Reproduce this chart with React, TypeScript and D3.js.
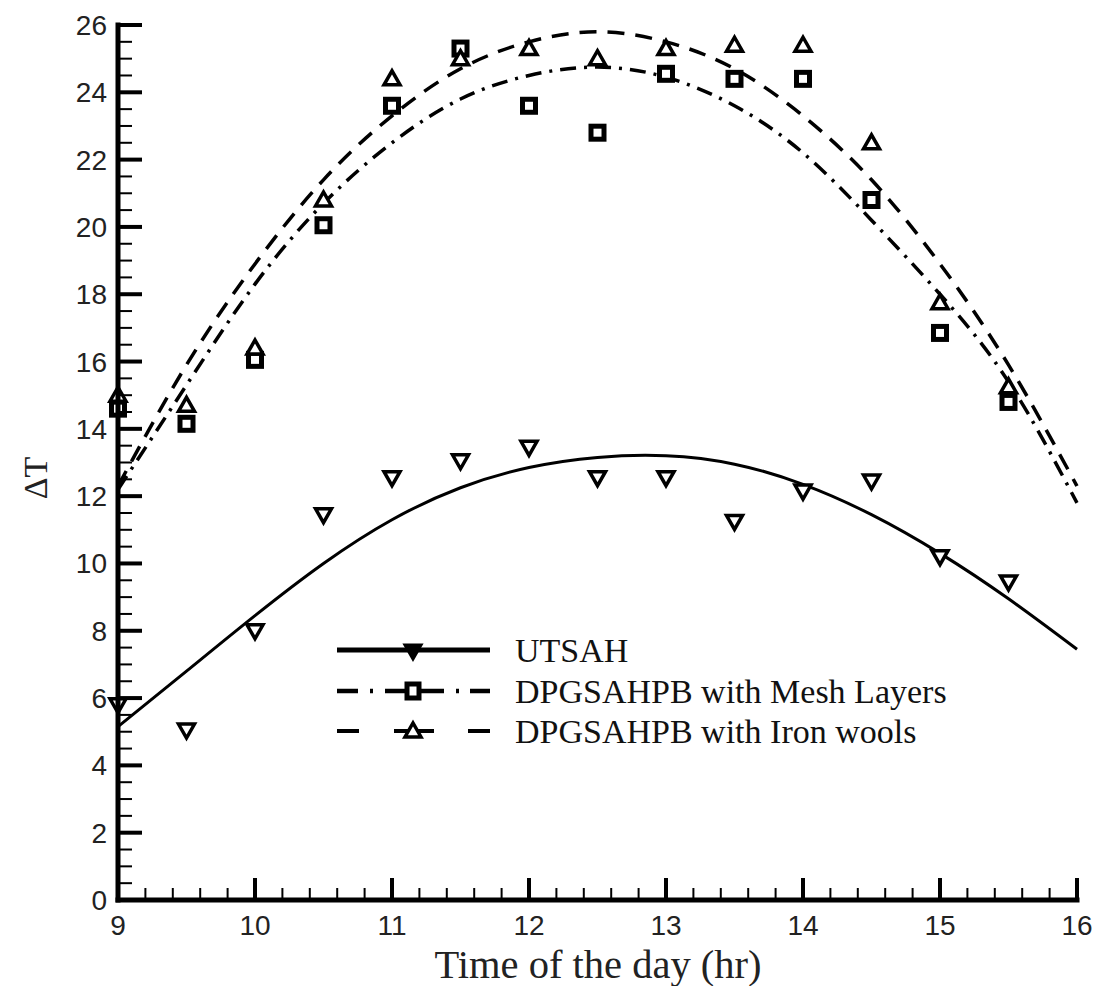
import React from "react";
import * as d3 from "d3";

// ---- data ----
const hours = [9, 9.5, 10, 10.5, 11, 11.5, 12, 12.5, 13, 13.5, 14, 14.5, 15, 15.5];
const utsah = [5.8, 5.05, 8.0, 11.45, 12.55, 13.05, 13.45, 12.55, 12.55, 11.25, 12.15, 12.45, 10.2, 9.45];
const meshLayers = [14.6, 14.15, 16.05, 20.05, 23.6, 25.3, 23.6, 22.8, 24.55, 24.4, 24.4, 20.8, 16.85, 14.8];
const ironWools = [15.0, 14.7, 16.4, 20.8, 24.4, 25.0, 25.3, 25.0, 25.3, 25.4, 25.4, 22.5, 17.75, 15.25];

// fitted trend curves
const fitHours = [9, 9.5, 10, 10.5, 11, 11.5, 12, 12.5, 13, 13.5, 14, 14.5, 15, 15.5, 16];
const utsahFit = [5.15, 6.8, 8.45, 10.0, 11.3, 12.25, 12.85, 13.15, 13.2, 12.95, 12.35, 11.45, 10.3, 8.95, 7.45];
const meshFit = [12.2, 15.3, 18.3, 20.7, 22.5, 23.8, 24.5, 24.75, 24.45, 23.6, 22.2, 20.2, 18.0, 15.4, 11.8];
const ironFit = [12.3, 15.9, 18.9, 21.4, 23.3, 24.7, 25.5, 25.8, 25.5, 24.7, 23.3, 21.4, 18.9, 15.9, 12.3];

const xTicks = [9, 10, 11, 12, 13, 14, 15, 16];
const yTicks = [0, 2, 4, 6, 8, 10, 12, 14, 16, 18, 20, 22, 24, 26];
const legendLabels = ["UTSAH", "DPGSAHPB with Mesh Layers", "DPGSAHPB with Iron wools"];
const xTitle = "Time of the day (hr)";
const yTitle = "ΔT";

const W = 1107;
const H = 986;

const x = d3.scaleLinear().domain([9, 16]).range([118, 1077]);
const y = d3.scaleLinear().domain([0, 26]).range([900, 25]);

const line = d3
  .line<[number, number]>()
  .x((d) => x(d[0]))
  .y((d) => y(d[1]))
  .curve(d3.curveNatural);

const TRI_DOWN = "M -8,-6 L 8,-6 L 0,8 Z";
const TRI_UP = "M -8,6 L 8,6 L 0,-8 Z";

const DASHDOT = "16 8 3 8";
const DASHED = "17 11";

export default function App() {
  const xMinor = d3.range(9, 16.0001, 0.2).filter((v) => Math.abs(v - Math.round(v)) > 1e-6);
  const yMinor = d3.range(0, 26.0001, 0.5).filter((v) => Math.abs(v / 2 - Math.round(v / 2)) > 1e-6);

  const tickFont = "'Liberation Sans', Arial, sans-serif";
  const serif = "'Liberation Serif', 'Times New Roman', serif";

  const legendY = [650, 691, 731];
  const lx0 = 337;
  const lx1 = 490;
  const lm = 413;

  return (
    <svg
      width={W}
      height={H}
      style={{ position: "absolute", left: 0, top: 0, background: "#fff" }}
      xmlns="http://www.w3.org/2000/svg"
    >
      <rect x={0} y={0} width={W} height={H} fill="#fff" />

      {/* fitted curves */}
      <path
        d={line(fitHours.map((h, i) => [h, utsahFit[i]]) as [number, number][]) || ""}
        fill="none"
        stroke="#000"
        strokeWidth={3}
      />
      <path
        d={line(fitHours.map((h, i) => [h, meshFit[i]]) as [number, number][]) || ""}
        fill="none"
        stroke="#000"
        strokeWidth={3.5}
        strokeDasharray={DASHDOT}
      />
      <path
        d={line(fitHours.map((h, i) => [h, ironFit[i]]) as [number, number][]) || ""}
        fill="none"
        stroke="#000"
        strokeWidth={3.5}
        strokeDasharray={DASHED}
      />

      {/* markers */}
      {hours.map((h, i) => (
        <path
          key={"u" + i}
          d={TRI_DOWN}
          transform={`translate(${x(h)},${y(utsah[i])})`}
          fill="#fff"
          stroke="#000"
          strokeWidth={3.5}
          strokeLinejoin="miter"
        />
      ))}
      {hours.map((h, i) => (
        <rect
          key={"m" + i}
          x={x(h) - 6.5}
          y={y(meshLayers[i]) - 6.5}
          width={13}
          height={13}
          fill="#fff"
          stroke="#000"
          strokeWidth={5}
        />
      ))}
      {hours.map((h, i) => (
        <path
          key={"w" + i}
          d={TRI_UP}
          transform={`translate(${x(h)},${y(ironWools[i])})`}
          fill="#fff"
          stroke="#000"
          strokeWidth={3.5}
        />
      ))}

      {/* axes */}
      <g stroke="#000">
        <line x1={x(9)} x2={x(16)} y1={y(0)} y2={y(0)} strokeWidth={5} strokeLinecap="square" />
        <line x1={x(9)} x2={x(9)} y1={y(0)} y2={y(26)} strokeWidth={5} strokeLinecap="square" />
        {xTicks.map((t) => (
          <line key={"xt" + t} x1={x(t)} x2={x(t)} y1={y(0)} y2={y(0) - 22} strokeWidth={4} />
        ))}
        {xMinor.map((t, i) => (
          <line key={"xm" + i} x1={x(t)} x2={x(t)} y1={y(0)} y2={y(0) - 12} strokeWidth={2} />
        ))}
        {yTicks.map((t) => (
          <line key={"yt" + t} x1={x(9)} x2={x(9) + 24} y1={y(t)} y2={y(t)} strokeWidth={4} />
        ))}
        {yMinor.map((t, i) => (
          <line key={"ym" + i} x1={x(9)} x2={x(9) + 14} y1={y(t)} y2={y(t)} strokeWidth={2} />
        ))}
      </g>

      {/* tick labels */}
      <g fontFamily={tickFont} fontSize={28} fill="#222">
        {xTicks.map((t) => (
          <text key={"xl" + t} x={x(t)} y={935} textAnchor="middle">
            {t}
          </text>
        ))}
        {yTicks.map((t) => (
          <text key={"yl" + t} x={107} y={y(t) + 10} textAnchor="end">
            {t}
          </text>
        ))}
      </g>

      {/* axis titles */}
      <text
        x={598}
        y={978}
        textAnchor="middle"
        fontFamily={serif}
        fontSize={41}
        fill="#222"
        textLength={327}
        lengthAdjust="spacingAndGlyphs"
      >
        {xTitle}
      </text>
      <text
        transform="translate(47,478) rotate(-90)"
        textAnchor="middle"
        fontFamily={serif}
        fontSize={34}
        fill="#222"
      >
        {yTitle}
      </text>

      {/* legend */}
      <g stroke="#000" fill="none">
        <line x1={lx0} x2={lx1} y1={legendY[0]} y2={legendY[0]} strokeWidth={5} />
        <line
          x1={lx0}
          x2={lx1}
          y1={legendY[1]}
          y2={legendY[1]}
          strokeWidth={4.5}
          strokeDasharray="21 12 3 12 59 12 3 11 22"
        />
        <line
          x1={lx0}
          x2={lx1}
          y1={legendY[2]}
          y2={legendY[2]}
          strokeWidth={4}
          strokeDasharray="22 35 40 34 22"
        />
      </g>
      <path d={TRI_DOWN} transform={`translate(${lm},${legendY[0] + 1})`} fill="#000" stroke="#000" strokeWidth={3} />
      <rect x={lm - 6} y={legendY[1] - 7} width={12} height={14} fill="#fff" stroke="#000" strokeWidth={5} />
      <path d={TRI_UP} transform={`translate(${lm},${legendY[2]})`} fill="#fff" stroke="#000" strokeWidth={3.5} />
      <g fontFamily={serif} fontSize={34} fill="#111">
        {legendLabels.map((l, i) => (
          <text key={l} x={515} y={legendY[i] + 12}>
            {l}
          </text>
        ))}
      </g>
    </svg>
  );
}
